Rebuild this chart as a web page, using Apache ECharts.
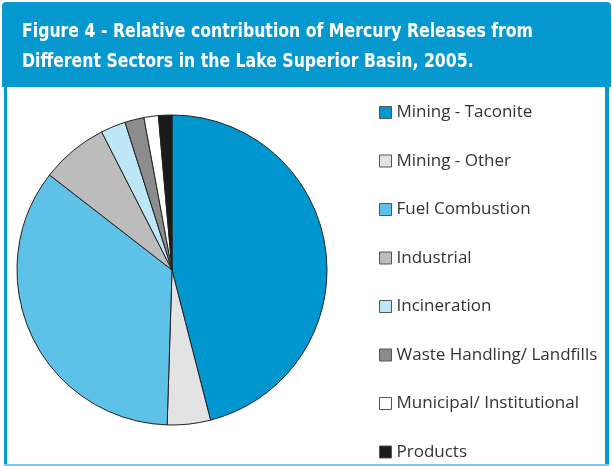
<!DOCTYPE html>
<html>
<head>
<meta charset="utf-8">
<script src="https://cdn.jsdelivr.net/npm/echarts@6/dist/echarts.min.js"></script>
<style>
  html, body { margin: 0; padding: 0; background: #fff; }
  #chart { width: 612px; height: 466px; }
</style>
</head>
<body>
<div id="chart"></div>
<script>
// sectors, clockwise from 12 o'clock (percent of releases)
const sectors = [
  'Mining - Taconite',
  'Mining - Other',
  'Fuel Combustion',
  'Industrial',
  'Incineration',
  'Waste Handling/ Landfills',
  'Municipal/ Institutional',
  'Products'
];
const shares = [46, 4.5, 35, 7, 2.6, 2, 1.5, 1.4];
const sliceColors = ['#0096d0', '#e3e3e3', '#5ec2e8', '#bcbcbc', '#bde6f7', '#8c8c8c', '#ffffff', '#1a1a1a'];

const titleLines = [
  'Figure 4 - Relative contribution of Mercury Releases from',
  'Different Sectors in the Lake Superior Basin, 2005.'
];
const frameBlue = '#0599d0';

// the original title uses a condensed face: squeeze ours to the same width
const titleFont = "bold 19px 'DejaVu Sans Condensed', 'DejaVu Sans', sans-serif";
const ctx = document.createElement('canvas').getContext('2d');
ctx.font = titleFont;
const titleScale = 511 / ctx.measureText(titleLines[0]).width;

const chart = echarts.init(document.getElementById('chart'));

const option = {
  backgroundColor: '#fff',
  animation: false,
  graphic: [
    // blue title bar
    {
      type: 'rect',
      z: -1,
      shape: { x: 2, y: 2, width: 609, height: 85, r: [4, 4, 0, 0] },
      style: { fill: frameBlue }
    },
    // side borders and bottom line
    { type: 'rect', z: -1, shape: { x: 4, y: 86, width: 3, height: 380 }, style: { fill: frameBlue } },
    { type: 'rect', z: -1, shape: { x: 605, y: 86, width: 4, height: 380 }, style: { fill: frameBlue } },
    { type: 'rect', z: -1, shape: { x: 4, y: 464, width: 605, height: 2 }, style: { fill: '#7cc8ea' } },
    ...titleLines.map((line, i) => ({
      type: 'text',
      x: 22,
      y: 32 + i * 30,
      scaleX: titleScale,
      style: {
        text: line,
        fill: '#fff',
        font: titleFont,
        verticalAlign: 'middle'
      }
    }))
  ],
  legend: {
    orient: 'vertical',
    left: 379,
    top: 104,
    height: 360,
    padding: 0,
    itemWidth: 12,
    itemHeight: 12,
    itemGap: 31.5,
    icon: 'rect',
    selectedMode: false,
    itemStyle: { borderColor: '#555', borderWidth: 1 },
    textStyle: {
      color: '#333',
      fontSize: 17,
      fontFamily: "'Open Sans', sans-serif"
    },
    data: sectors
  },
  series: [
    {
      type: 'pie',
      center: [172, 270],
      radius: 155,
      startAngle: 90,
      clockwise: true,
      label: { show: false },
      labelLine: { show: false },
      emphasis: { disabled: true },
      itemStyle: { borderColor: '#222', borderWidth: 1 },
      data: sectors.map((name, i) => ({
        name: name,
        value: shares[i],
        itemStyle: { color: sliceColors[i] }
      }))
    }
  ]
};

chart.setOption(option);
</script>
</body>
</html>
